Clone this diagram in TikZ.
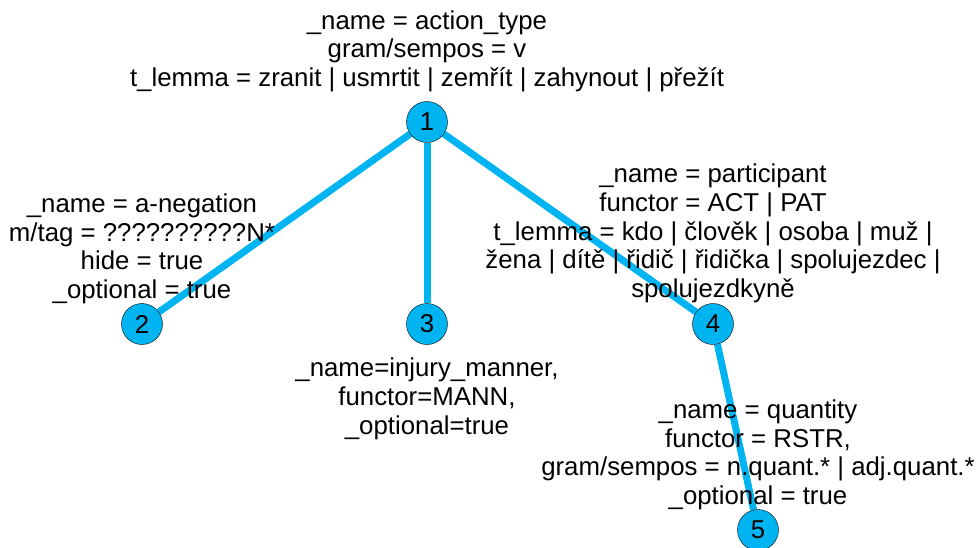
\documentclass[tikz,border=0pt]{standalone}
\usepackage{fontspec}
\setmainfont{Liberation Sans}
\usetikzlibrary{positioning,backgrounds}
\definecolor{treeblue}{RGB}{0,180,242}
\tikzset{
  vertex/.style={circle,draw=black,fill=treeblue,minimum size=41pt,inner sep=0pt,
    font=\fontsize{25.8}{28.8}\selectfont},
  attrs/.style={align=center,inner sep=0pt,font=\fontsize{25.8}{28.8}\selectfont},
  edge/.style={treeblue,line width=7pt}
}
\begin{document}
\begin{tikzpicture}[x=1pt,y=-1pt]
    \useasboundingbox (0,0) rectangle (978,547);

    % tree vertices
    \node[vertex] (n1) at (427,122) {1};
    \node[vertex] (n2) at (142,324) {2};
    \node[vertex] (n3) at (427,324) {3};
    \node[vertex] (n4) at (713,324) {4};
    \node[vertex] (n5) at (758,530) {5};

    % attribute blocks
    \node[attrs,above=9pt of n1] (a1) {\_name = action\_type\\gram/sempos = v\\t\_lemma = zranit | usmrtit | zemřít | zahynout | přežít};
    \node[attrs,above=-1pt of n2] (a2) {\_name = a-negation\\m/tag = ??????????N*\\hide = true\\\_optional = true};
    \node[attrs,below=13pt of n3] (a3) {\_name=injury\_manner,\\functor=MANN,\\\_optional=true};
    \node[attrs,above=0pt of n4] (a4) {\_name = participant\\functor = ACT | PAT\\t\_lemma = kdo | člověk | osoba | muž |\\žena | dítě | řidič | řidička | spolujezdec |\\spolujezdkyně};
    \node[attrs,above=-1pt of n5] (a5) {\_name = quantity\\functor = RSTR,\\gram/sempos = n.quant.* | adj.quant.*\\\_optional = true};

    % edges
    \begin{scope}[on background layer]
    \draw[edge] (n1) -- (n2);
    \draw[edge] (n1) -- (n3);
    \draw[edge] (n1) -- (n4);
    \draw[edge] (n4) -- (n5);
    \end{scope}
\end{tikzpicture}
\end{document}
